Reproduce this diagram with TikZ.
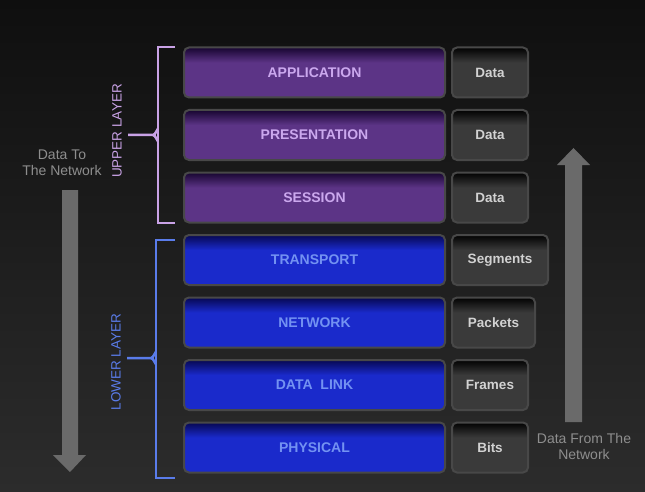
\documentclass[tikz,border=0pt]{standalone}
\usepackage{fontspec}
\setmainfont{Liberation Sans}
\usetikzlibrary{positioning}
\definecolor{bgtop}{HTML}{0F0F0F}
\definecolor{bgbot}{HTML}{2C2C2C}
\definecolor{pmain}{HTML}{5C3486}
\definecolor{pdark}{HTML}{1C0836}
\definecolor{bmain}{HTML}{1A2ACB}
\definecolor{bdark}{HTML}{080A5A}
\definecolor{gmain}{HTML}{3A3A3A}
\definecolor{gdark}{HTML}{050505}
\definecolor{ptext}{HTML}{CBA8EE}
\definecolor{btext}{HTML}{7392F2}
\definecolor{gtext}{HTML}{D2D2D2}
\definecolor{rim}{HTML}{484848}
\definecolor{brp}{HTML}{C9A2E6}
\definecolor{brb}{HTML}{5A7CEA}
\definecolor{arr}{HTML}{6A6A6A}
\definecolor{ltxt}{HTML}{8E8E8E}
\pgfdeclareverticalshading{bgshade}{100bp}{color(0bp)=(bgbot); color(25bp)=(bgbot); color(75bp)=(bgtop); color(100bp)=(bgtop)}
\pgfdeclareverticalshading{pshade}{100bp}{color(0bp)=(pmain); color(25bp)=(pmain); color(60bp)=(pmain); color(74bp)=(pdark); color(100bp)=(pdark)}
\pgfdeclareverticalshading{bshade}{100bp}{color(0bp)=(bmain); color(25bp)=(bmain); color(60bp)=(bmain); color(74bp)=(bdark); color(100bp)=(bdark)}
\pgfdeclareverticalshading{gshade}{100bp}{color(0bp)=(gmain); color(25bp)=(gmain); color(60bp)=(gmain); color(74bp)=(gdark); color(100bp)=(gdark)}
\tikzset{
  layerbox/.style={rounded corners=5pt, draw=rim, line width=2pt, minimum width=261pt, minimum height=50pt, anchor=west, inner sep=0pt,
    font=\fontsize{14}{16}\selectfont\bfseries},
  upperbox/.style={layerbox, shading=pshade, text=ptext},
  lowerbox/.style={layerbox, shading=bshade, text=btext},
  pdubox/.style={rounded corners=5pt, draw=rim, line width=2pt, minimum height=50pt, anchor=west, inner sep=0pt,
    shading=gshade, text=gtext, font=\fontsize{13.5}{15}\selectfont\bfseries},
  sidetext/.style={text=ltxt, align=center, font=\fontsize{14}{16}\selectfont},
  brackp/.style={draw=brp, line width=2.5pt},
  brackb/.style={draw=brb, line width=2.5pt},
  bigarrow/.style={fill=arr, draw=none}
}
\begin{document}
\begin{tikzpicture}[x=1pt,y=-1pt]
\shade[shading=bgshade] (0,0) rectangle (645,492);
\useasboundingbox (0,0) rectangle (645,492);
% layer boxes
\node[upperbox] (app) at (183,72.5) {APPLICATION};
\node[upperbox] (pres) at (183,135) {PRESENTATION};
\node[upperbox] (sess) at (183,197.5) {SESSION};
\node[lowerbox] (trans) at (183,260) {TRANSPORT};
\node[lowerbox] (net) at (183,322.5) {NETWORK};
\node[lowerbox] (dl) at (183,385) {DATA\ \ LINK};
\node[lowerbox] (phys) at (183,447.5) {PHYSICAL};
% PDU boxes
\node[pdubox, minimum width=76pt] (d1) at (451,72.5) {Data};
\node[pdubox, minimum width=76pt] (d2) at (451,135) {Data};
\node[pdubox, minimum width=76pt] (d3) at (451,197.5) {Data};
\node[pdubox, minimum width=96pt] (seg) at (451,260) {Segments};
\node[pdubox, minimum width=83pt] (pkt) at (451,322.5) {Packets};
\node[pdubox, minimum width=76pt] (frm) at (451,385) {Frames};
\node[pdubox, minimum width=76pt] (bits) at (451,447.5) {Bits};
% upper bracket
\draw[brackp] (175,47) -- (158,47) -- (158,223) -- (175,223);
\draw[brackp] (158,130) to[out=100,in=0] (153,135) -- (128,135);
\draw[brackp] (158,140) to[out=-100,in=0] (153,135);
\node[text=brp, rotate=90, font=\fontsize{13.5}{15}\selectfont] (ul) at (117,131) {UPPER LAYER};
% lower bracket
\draw[brackb] (175,240) -- (156,240) -- (156,478) -- (175,478);
\draw[brackb] (156,353) to[out=100,in=0] (151,358) -- (127,358);
\draw[brackb] (156,363) to[out=-100,in=0] (151,358);
\node[text=brb, rotate=90, font=\fontsize{13.5}{15}\selectfont] (ll) at (116,362) {LOWER LAYER};
% left down arrow
\fill[bigarrow] (62,190) -- (78,190) -- (78,455) -- (86,455) -- (70,472) -- (53,455) -- (62,455) -- cycle;
\node[sidetext] (dtn) at (62,163) {Data To\\The Network};
% right up arrow
\fill[bigarrow] (565,422) -- (582,422) -- (582,165) -- (590,165) -- (573.5,148) -- (557,165) -- (565,165) -- cycle;
\node[sidetext] (dfn) at (584,446) {Data From The\\Network};
\end{tikzpicture}
\end{document}
